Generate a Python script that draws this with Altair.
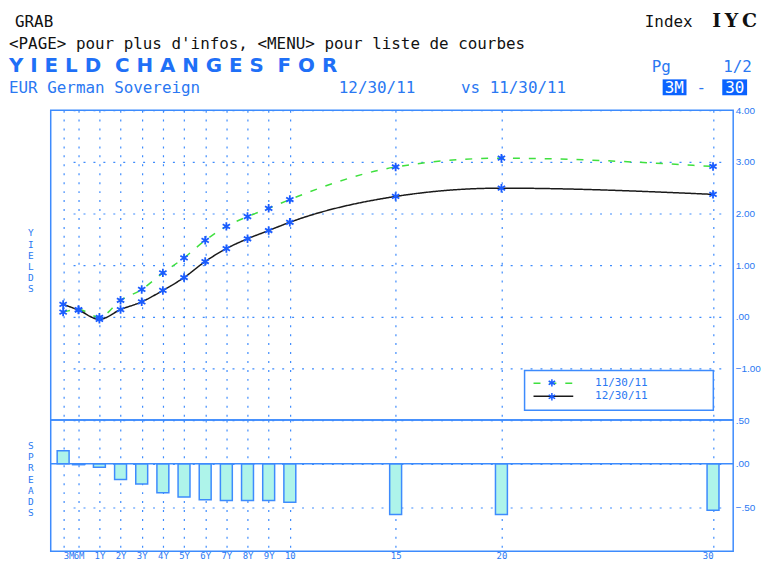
import altair as alt
import pandas as pd

# ---------------- data ----------------
tenor_labels = ["3M", "6M", "1Y", "2Y", "3Y", "4Y", "5Y", "6Y", "7Y", "8Y", "9Y", "10", "15", "20", "30"]
maturity_years = [0.25, 0.5, 1, 2, 3, 4, 5, 6, 7, 8, 9, 10, 15, 20, 30]
yields_113011 = [0.09, 0.14, -0.01, 0.32, 0.53, 0.85, 1.14, 1.48, 1.75, 1.94, 2.10, 2.27, 2.90, 3.07, 2.91]
yields_123011 = [0.24, 0.13, -0.05, 0.14, 0.29, 0.51, 0.76, 1.07, 1.32, 1.51, 1.67, 1.83, 2.33, 2.49, 2.37]
spreads = [0.15, -0.01, -0.04, -0.18, -0.23, -0.33, -0.38, -0.41, -0.42, -0.42, -0.42, -0.44, -0.58, -0.58, -0.53]
series_names = ["11/30/11", "12/30/11"]
yield_ticks = [-1, 0, 1, 2, 3, 4]
spread_ticks = [-0.5, 0, 0.5]

# ---------------- styles ----------------
BLUE = "#3d8bfd"
TEXT_BLUE = "#2a78f2"
TITLE_BLUE = "#1f70f7"
MARK_BLUE = "#1a5cff"
GREEN = "#3fe03f"
BLACK = "#1a1a1a"
BAR_FILL = "#aef4ea"
HILITE = "#0a63ff"
MONO = "DejaVu Sans Mono"
SANS = "Liberation Sans"
AST = "M0,-1V1M-0.87,-0.5L0.87,0.5M-0.87,0.5L0.87,-0.5"

W, H_TOP, H_BOT = 687, 312, 132

long_df = pd.DataFrame({
    "maturity": maturity_years * 2,
    "tenor": tenor_labels * 2,
    "yield": yields_113011 + yields_123011,
    "series": [series_names[0]] * len(maturity_years) + [series_names[1]] * len(maturity_years),
})
spread_df = pd.DataFrame({"maturity": maturity_years, "tenor": tenor_labels, "spread": spreads})

label_expr = " : ".join(f"datum.value == {m} ? '{t}'" for m, t in zip(maturity_years, tenor_labels)) + " : ''"
num_expr = "replace(format(datum.value, '.2f'), '0.', '.')"

x_scale = alt.Scale(domain=[0.25, 0.5, 1, 30], range=[12.5, 28, 49, 666.7], nice=False, zero=False, padding=0)

x_axis_top = alt.Axis(values=maturity_years, labels=False, ticks=False, tickSize=0, domain=False, grid=True,
                      gridColor=BLUE, gridDash=[2, 7], gridWidth=1.2, title=None)
x_axis_bot = alt.Axis(values=maturity_years, labelExpr=label_expr, labelFont=MONO, labelFontSize=9,
                      labelColor=TEXT_BLUE, labelPadding=0, labelBaseline="top", labelOverlap=False,
                      ticks=False, tickSize=0, domain=False, grid=True, gridColor=BLUE,
                      gridDash=[2, 7], gridWidth=1.2, title=None)

y_axis_top = alt.Axis(orient="right", values=yield_ticks, labelExpr=num_expr, labelFont=SANS,
                      labelFontSize=10, labelColor=TEXT_BLUE, labelPadding=2, ticks=False, tickSize=0,
                      domain=False, grid=True, gridColor=BLUE, gridDash=[2, 8], gridWidth=1.2, title=None)
y_axis_bot = alt.Axis(orient="right", values=spread_ticks, labelExpr=num_expr, labelFont=SANS,
                      labelFontSize=10, labelColor=TEXT_BLUE, labelPadding=2, ticks=False, tickSize=0,
                      domain=False, grid=True, gridColor=BLUE, gridDash=[2, 8], gridWidth=1.2, title=None)

y_scale_top = alt.Scale(domain=[-2, 4], nice=False, zero=False, padding=0)
y_scale_bot = alt.Scale(domain=[-1, 0.5], nice=False, zero=False, padding=0)

one = alt.InlineData(values=[{}])

line_legend = alt.Legend(orient="none", legendX=485, legendY=269, title=None, symbolType="M-1,0H7",
                         symbolSize=100, symbolStrokeWidth=1.5, labelOffset=51, labelFont=MONO,
                         labelFontSize=11, labelColor=TEXT_BLUE, rowPadding=2, padding=0)

lines = alt.Chart(long_df).mark_line(interpolate="monotone", strokeWidth=1.5).encode(
    x=alt.X("maturity:Q", scale=x_scale, axis=x_axis_top),
    y=alt.Y("yield:Q", scale=y_scale_top, axis=y_axis_top),
    color=alt.Color("series:N", scale=alt.Scale(domain=series_names, range=[GREEN, BLACK]), legend=line_legend),
    strokeDash=alt.StrokeDash("series:N", scale=alt.Scale(domain=series_names, range=[[7, 9], [1, 0]]),
                              legend=line_legend),
)

points = alt.Chart(long_df).transform_calculate(marker="datum.series + ' *'").mark_point(
    filled=False, color=MARK_BLUE, strokeWidth=1.8, size=72, opacity=1
).encode(
    x=alt.X("maturity:Q", scale=x_scale, axis=x_axis_top),
    y=alt.Y("yield:Q", scale=y_scale_top, axis=y_axis_top),
    shape=alt.Shape("marker:N", scale=alt.Scale(domain=[s + " *" for s in series_names], range=[AST, AST]),
                    legend=alt.Legend(orient="none", legendX=485, legendY=269, title=None,
                                      symbolSize=56, symbolStrokeColor=MARK_BLUE,
                                      symbolFillColor="transparent", symbolStrokeWidth=1.5,
                                      symbolOffset=14, labelExpr="'\u00a0'", labelOpacity=0,
                                      labelFontSize=11, labelFont=MONO, rowPadding=-1, padding=0)),
)

legend_box = alt.Chart(one).mark_rect(fill="white", stroke=BLUE, strokeWidth=1.5).encode(
    x=alt.value(477), x2=alt.value(667), y=alt.value(262), y2=alt.value(302))


def txt(text, x, y, color=TEXT_BLUE, font=MONO, size=16, weight="normal", align="left"):
    return alt.Chart(one).mark_text(font=font, fontSize=size, fontWeight=weight, color=color,
                                    align=align, baseline="alphabetic").encode(
        x=alt.value(x), y=alt.value(y), text=alt.value(text))


NB = "\u00a0"
title_text = (NB * 2).join(NB.join(w) for w in ["YIELD", "CHANGES", "FOR"])

header = [
    txt("GRAB", -36, -84, color="#111111"),
    txt("Index", 598, -84, color="#111111"),
    txt("I\u2009Y\u2009C", 711, -84, color="#111111", font="DejaVu Serif", size=19, weight="bold", align="right"),
    txt("<PAGE> pour plus d'infos, <MENU> pour liste de courbes", -42, -62, color="#111111"),
    txt(title_text, -42, -38, color=TITLE_BLUE, font="DejaVu Sans", size=20, weight="bold"),
    txt("Pg", 605, -38),
    txt("1/2", 677, -38),
    txt("EUR German Sovereign", -42, -17),
    txt("12/30/11", 290, -17),
    txt("vs 11/30/11", 413, -17),
    alt.Chart(one).mark_rect(fill=HILITE).encode(x=alt.value(616), x2=alt.value(640), y=alt.value(-31), y2=alt.value(-15)),
    alt.Chart(one).mark_rect(fill=HILITE).encode(x=alt.value(676), x2=alt.value(701), y=alt.value(-31), y2=alt.value(-15)),
    txt("3M", 618, -17, color="white"),
    txt("-", 650, -17),
    txt("30", 679, -17, color="white"),
]

yields_label = alt.Chart(one).mark_text(font=MONO, fontSize=9.5, color=TEXT_BLUE, lineHeight=11.3,
                                        align="center", baseline="top").encode(
    x=alt.value(-20), y=alt.value(119), text=alt.value(list("YIELDS")))

top = alt.layer(lines, points, legend_box, yields_label, *header).properties(width=W, height=H_TOP)

bars = alt.Chart(spread_df).mark_bar(width=12, fill=BAR_FILL, stroke=BLUE, strokeWidth=1.5).encode(
    x=alt.X("maturity:Q", scale=x_scale, axis=x_axis_bot),
    y=alt.Y("spread:Q", scale=y_scale_bot, axis=y_axis_bot),
    y2=alt.datum(0),
)
zero_rule = alt.Chart(one).mark_rule(color=BLUE, strokeWidth=1.5).encode(y=alt.datum(0))
spreads_label = alt.Chart(one).mark_text(font=MONO, fontSize=9.5, color=TEXT_BLUE, lineHeight=11.3,
                                         align="center", baseline="top").encode(
    x=alt.value(-20), y=alt.value(21), text=alt.value(list("SPREADS")))

bottom = alt.layer(bars, zero_rule, spreads_label).properties(width=W, height=H_BOT)

chart = alt.vconcat(top, bottom, spacing=0, bounds="flush").resolve_legend(
    color="independent", shape="independent", strokeDash="independent"
).properties(
    padding={"top": 1, "left": 0, "right": 0, "bottom": 0}, background="white"
).configure_view(stroke=BLUE, strokeWidth=1.5)

chart.save("out.html", embed_options={"renderer": "svg", "actions": False})
